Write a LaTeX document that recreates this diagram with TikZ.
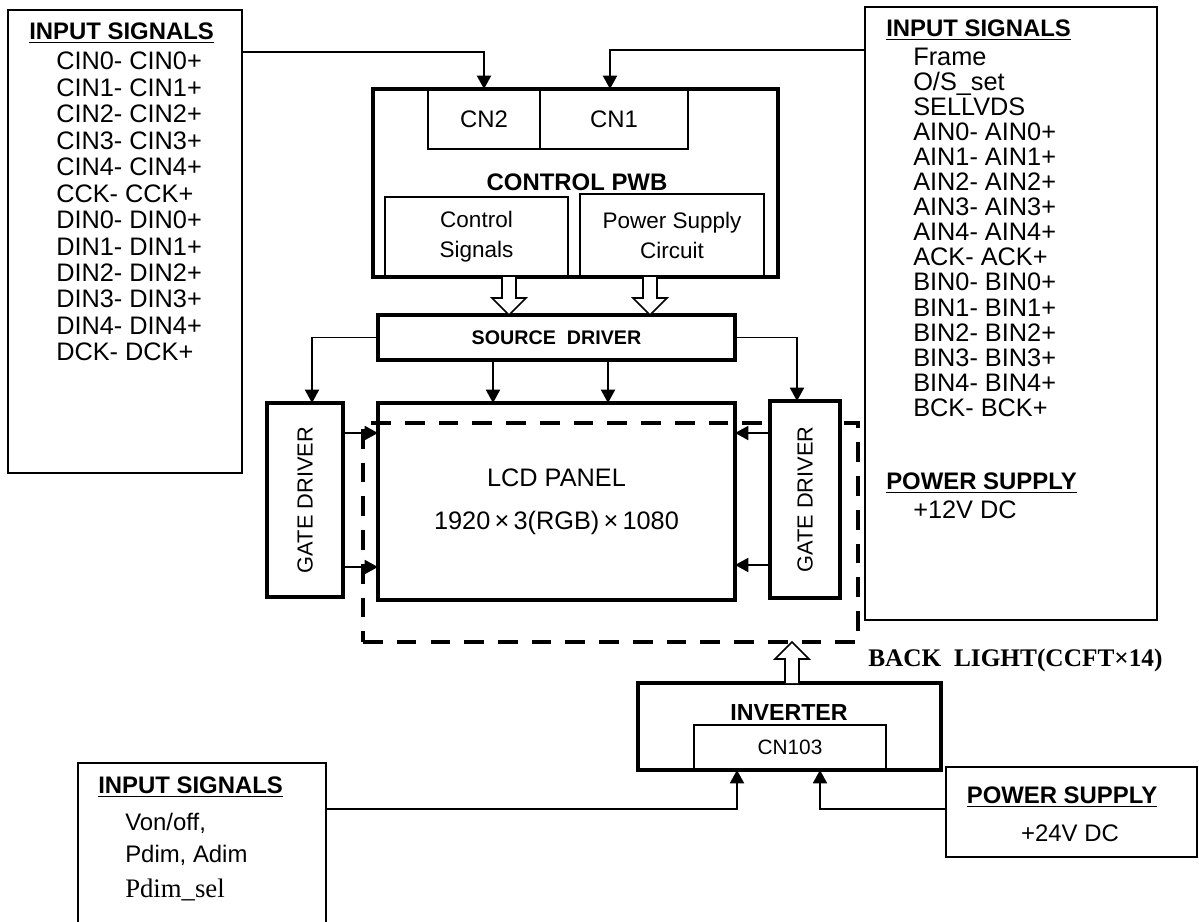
\documentclass[tikz,border=0pt]{standalone}
\usepackage{fontspec}
\setmainfont{Liberation Sans}
\newfontfamily\timesfont{Liberation Serif}
\usetikzlibrary{arrows.meta,positioning,calc}

% hollow block arrow from #1 to tip #2, #3 = 1 (down) or -1 (up)
\newcommand{\blockarrow}[3]{%
  \draw[hollow] ($(#1)+(-7,0)$) -- ($(#2)+(-7,-17*#3)$) -- ($(#2)+(-17,-17*#3)$) -- (#2)
    -- ($(#2)+(17,-17*#3)$) -- ($(#2)+(7,-17*#3)$) -- ($(#1)+(7,0)$);
}

\begin{document}
\begin{tikzpicture}[
    x=0.025cm, y=-0.025cm,
    boxw/.style={minimum width=#1*0.025cm},
    boxh/.style={minimum height=#1*0.025cm},
    thinbox/.style={draw, line width=1.2pt, inner sep=0pt, outer sep=0pt},
    thickbox/.style={draw, line width=2.8pt, inner sep=0pt, outer sep=0pt},
    txt/.style={inner sep=0pt, font=\fontsize{17}{20}\selectfont},
    title/.style={inner sep=0pt, anchor=west, font=\bfseries\fontsize{17}{20}\selectfont},
    siglist/.style={inner sep=0pt, anchor=north west, align=left},
    gatetext/.style={inner sep=0pt, rotate=90, font=\fontsize{15.5}{18}\selectfont},
    sig/.style={-{Triangle[length=9.5pt,width=10pt]}, line width=1.2pt},
    panelframe/.style={draw, line width=2.8pt, dash pattern=on 14pt off 10pt, inner sep=0pt, outer sep=0pt},
    hollow/.style={line width=1.2pt, fill=white}
]
\useasboundingbox (0,0) rectangle (1199,922);
\clip (0,0) rectangle (1199,922);

% ===== LEFT INPUT =====
\node[thinbox, boxw=234, boxh=463] (inL) at (125,241.5) {};
\node[title] (inLt) at (29,33) {\underline{INPUT SIGNALS}};
\node[siglist, font=\fontsize{18}{18.8}\selectfont] (inLl) at (56,52)
  {CIN0- CIN0+\\CIN1- CIN1+\\CIN2- CIN2+\\CIN3- CIN3+\\CIN4- CIN4+\\CCK- CCK+\\
   DIN0- DIN0+\\DIN1- DIN1+\\DIN2- DIN2+\\DIN3- DIN3+\\DIN4- DIN4+\\DCK- DCK+};

% ===== RIGHT INPUT =====
\node[thinbox, boxw=292, boxh=613] (inR) at (1011,313.5) {};
\node[title] (inRt) at (886,30) {\underline{INPUT SIGNALS}};
\node[siglist, font=\fontsize{18}{17.8}\selectfont] (inRl) at (913,48)
  {Frame\\O/S\_set\\SELLVDS\\AIN0- AIN0+\\AIN1- AIN1+\\AIN2- AIN2+\\AIN3- AIN3+\\AIN4- AIN4+\\
   ACK- ACK+\\BIN0- BIN0+\\BIN1- BIN1+\\BIN2- BIN2+\\BIN3- BIN3+\\BIN4- BIN4+\\BCK- BCK+};
\node[title] (inRp) at (886,483) {\underline{POWER SUPPLY}};
\node[txt, anchor=west, font=\fontsize{18}{20}\selectfont] (inRv) at (913,510) {+12V DC};

% ===== CONTROL PWB =====
\node[thickbox, boxw=405, boxh=188] (pwb) at (575.5,183) {};
\node[thinbox, boxw=112, boxh=60, txt] (cn2) at (484,119) {CN2};
\node[thinbox, boxw=148, boxh=60, txt] (cn1) at (614,119) {CN1};
\node[txt, font=\bfseries\fontsize{17}{20}\selectfont] (pwbt) at (577,182) {CONTROL PWB};
\node[thinbox, boxw=183, boxh=80, align=center, font=\fontsize{16}{21.3}\selectfont] (ctrlsig) at (476.5,237) {Control\\Signals};
\node[thinbox, boxw=184, boxh=83, align=center, font=\fontsize{16}{21.3}\selectfont] (psc) at (672,235.5) {Power Supply\\Circuit};

\draw[sig] ($(inL.north east)+(0,42)$) -| (cn2.north);
\draw[sig] ($(inR.north west)+(0,43)$) -| ($(cn1.north)+(-4,0)$);

% ===== SOURCE DRIVER / PANEL =====
\node[thickbox, boxw=357, boxh=45, font=\bfseries\fontsize{14}{16}\selectfont] (src) at (556.5,337.5) {SOURCE\ \ DRIVER};
\node[thickbox, boxw=357, boxh=197, align=center, font=\fontsize{18}{30.6}\selectfont] (lcd) at (556.5,501.5)
  {LCD PANEL\\1920\,×\,3(RGB)\,×\,1080};
\node[panelframe, boxw=495, boxh=219] (blight) at (610.5,532.5) {};
\node[thickbox, fill=white, boxw=76, boxh=194] (gdL) at (305,500) {};
\node[gatetext] at (gdL.center) {GATE DRIVER};
\node[thickbox, fill=white, boxw=70, boxh=197] (gdR) at (805,499.5) {};
\node[gatetext] at (gdR.center) {GATE DRIVER};

\coordinate (ha1) at ($(ctrlsig.south)+(32.5,0)$);
\coordinate (hb1) at (ha1 |- src.north);
\blockarrow{ha1}{hb1}{1}
\coordinate (ha2) at ($(psc.south)+(-22,0)$);
\coordinate (hb2) at (ha2 |- src.north);
\blockarrow{ha2}{hb2}{1}

\draw[sig] (src.west) -| ($(gdL.north)+(7,0)$);
\draw[sig] (src.east) -| ($(gdR.north)+(-8,0)$);
\draw[sig] ($(src.south)+(-63.5,0)$) -- ($(lcd.north)+(-63.5,0)$);
\draw[sig] ($(src.south)+(51.5,0)$) -- ($(lcd.north)+(51.5,0)$);

\coordinate (gl1) at ($(gdL.north east)+(0,30)$);
\coordinate (gl2) at ($(gdL.south east)+(0,-30)$);
\draw[sig] (gl1) -- (gl1 -| lcd.west);
\draw[sig] (gl2) -- (gl2 -| lcd.west);
\coordinate (gr1) at ($(gdR.north west)+(0,32)$);
\coordinate (gr2) at ($(gdR.south west)+(0,-33)$);
\draw[sig] (gr1) -- (gr1 -| lcd.east);
\draw[sig] (gr2) -- (gr2 -| lcd.east);

% ===== INVERTER =====
\node[thickbox, boxw=303, boxh=87] (inv) at (789.5,726.5) {};
\node[txt, font=\bfseries\fontsize{16.5}{20}\selectfont] (invt) at (789,713) {INVERTER};
\node[thinbox, boxw=192, boxh=45, font=\fontsize{14.8}{18}\selectfont] (cn103) at (790,747.5) {CN103};

\coordinate (ha3) at ($(inv.north)+(2.5,0)$);
\coordinate (hb3) at (ha3 |- blight.south);
\blockarrow{ha3}{hb3}{-1}
\node[inner sep=0pt, anchor=west, font=\timesfont\bfseries\fontsize{18}{20}\selectfont] (blt) at (868,660) {BACK\ \ LIGHT(CCFT×14)};

% ===== BOTTOM INPUTS =====
\node[thinbox, boxw=248, boxh=200] (inB) at (202,863) {};
\node[title] (inBt) at (98,787) {\underline{INPUT SIGNALS}};
\node[txt, anchor=west] (inB1) at (125,823) {Von/off,};
\node[txt, anchor=west] (inB2) at (125,855) {Pdim, Adim};
\node[txt, anchor=west, font=\timesfont\fontsize{19}{20}\selectfont] (inB3) at (125,890) {Pdim\_sel};

\node[thinbox, boxw=251, boxh=90] (pwr) at (1071.5,812) {};
\node[txt, font=\bfseries\fontsize{17}{20}\selectfont] (pwrt) at (1062,797) {\underline{POWER SUPPLY}};
\node[txt] (pwrv) at (1070,833) {+24V DC};

\coordinate (bi1) at ($(inB.north east)+(0,46)$);
\draw[sig] (bi1) -| ($(inv.south)+(-52.5,0)$);
\coordinate (bi2) at ($(pwr.north west)+(0,42)$);
\draw[sig] (bi2) -| ($(inv.south)+(30.5,0)$);

\end{tikzpicture}
\end{document}
